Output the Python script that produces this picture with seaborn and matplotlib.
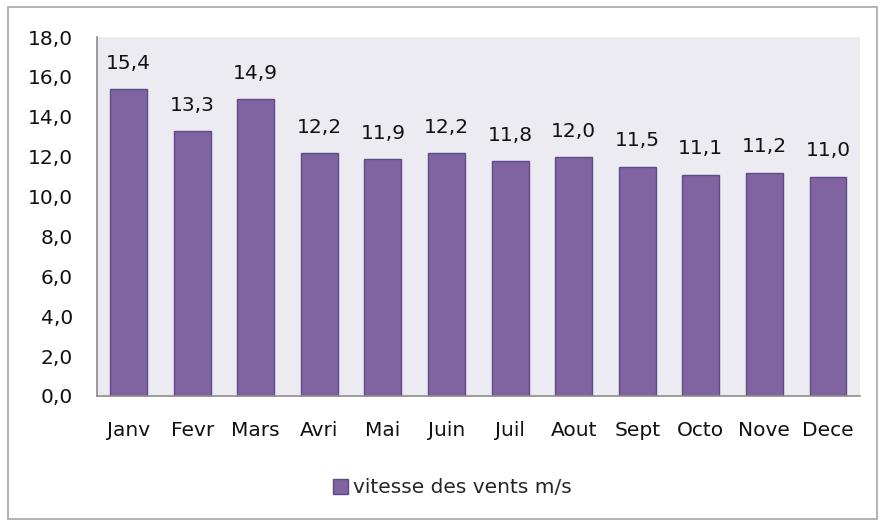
import pandas as pd
import matplotlib.pyplot as plt
import seaborn as sns
from matplotlib.ticker import FuncFormatter
from matplotlib.patches import Rectangle, Patch

mois = ['Janv', 'Fevr', 'Mars', 'Avri', 'Mai', 'Juin', 'Juil', 'Aout', 'Sept', 'Octo', 'Nove', 'Dece']
vitesse = [15.4, 13.3, 14.9, 12.2, 11.9, 12.2, 11.8, 12.0, 11.5, 11.1, 11.2, 11.0]
serie = 'vitesse des vents m/s'


def virgule(v):
    return f'{v:.1f}'.replace('.', ',')


def plot_vents():
    df = pd.DataFrame({'mois': mois, 'vitesse': vitesse})

    sns.set_style('white')
    plt.rcParams['font.family'] = ['DejaVu Sans']
    fs = 14.5

    fig = plt.figure(figsize=(8.8, 5.23), dpi=100)
    ax = fig.add_axes([0.110, 0.243, 0.867, 0.686])
    ax.set_facecolor('#EDEBF2')

    sns.barplot(x='mois', y='vitesse', data=df, ax=ax, color='#8064A2',
                saturation=1, width=0.58, edgecolor='#5E4A86', linewidth=1)

    # étiquettes de données
    for i, v in enumerate(vitesse):
        ax.annotate(virgule(v), (i, v), xytext=(0, 18.5), textcoords='offset points',
                    ha='center', va='center', fontsize=fs, color='#111111')

    ax.set_ylim(0, 18)
    ax.set_yticks(range(0, 19, 2))
    ax.yaxis.set_major_formatter(FuncFormatter(lambda v, p: virgule(v)))
    ax.set_xlim(-0.5, len(mois) - 0.5)
    ax.set_xlabel('')
    ax.set_ylabel('')
    ax.tick_params(axis='y', length=0, pad=17, labelsize=fs, labelcolor='#111111')
    ax.tick_params(axis='x', length=0, pad=18, labelsize=fs, labelcolor='#111111')

    for s in ['top', 'right']:
        ax.spines[s].set_visible(False)
    for s in ['left', 'bottom']:
        ax.spines[s].set_color('#8C8C8C')
        ax.spines[s].set_linewidth(1.2)

    # légende
    fig.legend(handles=[Patch(facecolor='#8064A2', edgecolor='#5E4A86', label=serie)],
               loc='center', bbox_to_anchor=(0.514, 0.067), frameon=False,
               fontsize=fs, handlelength=0.75, handleheight=0.75, handletextpad=0.2)

    # cadre extérieur
    fig.patches.append(Rectangle((8 / 880, 4 / 523), 869 / 880, 512 / 523,
                                 transform=fig.transFigure, fill=False,
                                 edgecolor='#A6A6A6', linewidth=1.2))

    fig.savefig('out.png', dpi=100)
    plt.close()


if __name__ == '__main__':
    plot_vents()
